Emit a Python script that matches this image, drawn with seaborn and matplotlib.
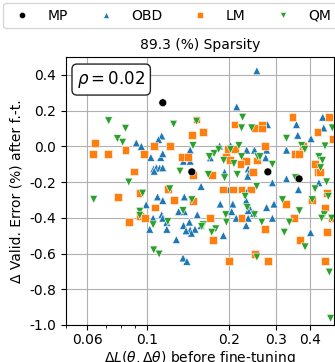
import numpy as np
import pandas as pd
import matplotlib
matplotlib.use("Agg")
import matplotlib.pyplot as plt
from matplotlib import ticker
import seaborn as sns

# ---- data ----
methods = ["MP", "OBD", "LM", "QM"]
colors = {"MP": "black", "OBD": "#1f77b4", "LM": "#ff7f0e", "QM": "#2ca02c"}
markers = {"MP": "o", "OBD": "^", "LM": "s", "QM": "v"}

mp_x = [0.114, 0.146, 0.279, 0.364]
mp_y = [0.244, -0.143, -0.143, -0.182]

obd_x = [0.254, 0.214, 0.278, 0.356, 0.360, 0.403, 0.445, 0.449, 0.113, 0.110,
         0.091, 0.095, 0.144, 0.103, 0.112, 0.114, 0.136, 0.144, 0.1055, 0.108,
         0.111, 0.114, 0.106, 0.158, 0.137, 0.109, 0.114, 0.099, 0.1305, 0.137,
         0.153, 0.105, 0.113, 0.114, 0.118, 0.102, 0.118, 0.136, 0.143, 0.144,
         0.150, 0.1455, 0.139, 0.158, 0.128, 0.1355, 0.140, 0.185, 0.203, 0.233,
         0.249, 0.276, 0.327, 0.171, 0.225, 0.274, 0.236, 0.238, 0.235, 0.327,
         0.431, 0.290, 0.2005, 0.236, 0.362, 0.232, 0.186, 0.207, 0.294, 0.238,
         0.236, 0.276, 0.205, 0.247, 0.213, 0.236, 0.290, 0.232, 0.4015, 0.191,
         0.193]
obd_y = [0.423, 0.221, 0.122, 0.122, 0.062, 0.043, 0.163, 0.103, 0.058, 0.038,
         0.019, 0.000, -0.021, -0.062, -0.062, -0.041, -0.083, -0.083, -0.126, -0.120,
         -0.122, -0.120, -0.139, -0.224, -0.283, -0.283, -0.303, -0.327, -0.365, -0.365,
         -0.383, -0.402, -0.383, -0.402, -0.426, -0.464, -0.464, -0.443, -0.424, -0.468,
         -0.464, -0.486, -0.473, -0.443, -0.522, -0.625, -0.644, 0.002, 0.004, -0.021,
         -0.021, -0.021, -0.021, -0.064, -0.083, -0.064, -0.126, -0.146, -0.167, -0.182,
         -0.204, -0.204, -0.242, -0.242, -0.242, -0.304, -0.323, -0.323, -0.323, -0.342,
         -0.359, -0.342, -0.365, -0.374, -0.402, -0.402, -0.402, -0.443, -0.483, -0.499,
         -0.145]

lm_x = [0.0639, 0.063, 0.0713, 0.083, 0.097, 0.106, 0.1216, 0.146, 0.152, 0.160,
        0.210, 0.249, 0.265, 0.265, 0.344, 0.426, 0.470, 0.487, 0.272, 0.375,
        0.134, 0.141, 0.089, 0.147, 0.119, 0.0777, 0.0935, 0.1255, 0.1475, 0.107,
        0.0853, 0.0937, 0.098, 0.199, 0.211, 0.352, 0.364, 0.196, 0.202, 0.231,
        0.255, 0.221, 0.245, 0.174, 0.417, 0.426, 0.435, 0.191, 0.208, 0.223,
        0.241, 0.460, 0.326, 0.407, 0.454, 0.1705, 0.223, 0.349, 0.272, 0.460,
        0.175, 0.367, 0.250, 0.2005, 0.2785, 0.454, 0.482]
lm_y = [0.020, -0.041, -0.041, -0.019, -0.041, 0.002, 0.003, 0.062, 0.150, 0.081,
        0.122, 0.101, 0.118, 0.100, 0.163, 0.081, 0.163, 0.041, 0.003, 0.003,
        -0.060, -0.060, -0.141, -0.162, -0.238, -0.282, -0.263, -0.302, -0.304, -0.342,
        -0.424, -0.389, -0.402, -0.017, -0.017, -0.041, -0.041, -0.060, -0.077, -0.083,
        -0.079, -0.101, -0.143, -0.162, -0.101, -0.143, -0.143, -0.242, -0.242, -0.242,
        -0.242, -0.261, -0.323, -0.301, -0.342, -0.402, -0.402, -0.402, -0.462, -0.481,
        -0.522, -0.522, -0.603, -0.644, -0.644, -0.644, -0.402]

qm_x = [0.0719, 0.083, 0.0775, 0.081, 0.125, 0.152, 0.1475, 0.225, 0.223, 0.243,
        0.327, 0.483, 0.218, 0.372, 0.382, 0.1765, 0.1695, 0.1915, 0.223, 0.256,
        0.261, 0.290, 0.209, 0.215, 0.168, 0.193, 0.353, 0.431, 0.444, 0.437,
        0.460, 0.2536, 0.417, 0.467, 0.230, 0.316, 0.407, 0.365, 0.195, 0.249,
        0.451, 0.441, 0.480, 0.335, 0.265, 0.196, 0.161, 0.1587, 0.179, 0.173,
        0.321, 0.383, 0.254, 0.471, 0.476, 0.0853, 0.0633, 0.096, 0.121, 0.132,
        0.146, 0.1355, 0.0937, 0.0937, 0.119, 0.105, 0.1055, 0.1105, 0.203, 0.454,
        0.234, 0.1835]
qm_y = [0.143, 0.101, 0.043, 0.023, 0.124, 0.141, 0.004, 0.163, 0.103, 0.103,
        0.045, 0.103, 0.004, 0.004, -0.017, -0.041, -0.058, -0.079, -0.058, -0.058,
        -0.058, -0.101, -0.097, -0.158, -0.158, -0.176, -0.176, -0.058, -0.079, -0.120,
        -0.199, -0.224, -0.238, -0.280, -0.280, -0.299, -0.299, -0.361, -0.383, -0.383,
        -0.383, -0.402, -0.402, -0.424, -0.424, -0.424, -0.439, -0.449, -0.462, -0.481,
        -0.481, -0.563, -0.620, -0.704, -0.963, -0.200, -0.297, -0.262, -0.238, -0.139,
        -0.299, -0.360, -0.363, -0.386, -0.421, -0.439, -0.580, -0.603, -0.017, 0.002,
        -0.342, -0.017]

title = "89.3 (%) Sparsity"
rho_text = r"$\rho = 0.02$"
xticks = [0.06, 0.1, 0.2, 0.3, 0.4]
xtick_labels = ["0.06", "0.1", "0.2", "0.3", "0.4"]
xminor = [0.05, 0.07, 0.08, 0.09]
yticks = [-1.0, -0.8, -0.6, -0.4, -0.2, 0.0, 0.2, 0.4]

# ---- build table (plot order: OBD, LM, QM, MP on top) ----
frames = [
    pd.DataFrame({"x": obd_x, "y": obd_y, "method": "OBD"}),
    pd.DataFrame({"x": lm_x, "y": lm_y, "method": "LM"}),
    pd.DataFrame({"x": qm_x, "y": qm_y, "method": "QM"}),
    pd.DataFrame({"x": mp_x, "y": mp_y, "method": "MP"}),
]
df = pd.concat(frames, ignore_index=True)

plt.rcParams["font.family"] = ["DejaVu Sans"]
fig = plt.figure(figsize=(3.35, 3.62), dpi=100)
ax = fig.add_axes([66 / 335, 1 - 325 / 362, (334 - 66) / 335, (325 - 57) / 362])

sns.scatterplot(data=df, x="x", y="y", hue="method", style="method",
                hue_order=methods, style_order=methods, palette=colors,
                markers=markers, s=32, linewidth=0.4, edgecolor="white",
                ax=ax, legend=True, zorder=3)

ax.set_xscale("log")
ax.set_xlim(0.05, 0.49)
ax.set_ylim(-1.0, 0.5)
ax.xaxis.set_major_locator(ticker.FixedLocator(xticks))
ax.xaxis.set_major_formatter(ticker.FixedFormatter(xtick_labels))
ax.xaxis.set_minor_locator(ticker.FixedLocator(xminor))
ax.xaxis.set_minor_formatter(ticker.NullFormatter())
ax.set_yticks(yticks)
ax.yaxis.set_major_formatter(ticker.FormatStrFormatter("%.1f"))
ax.grid(True, which="major", color="#b0b0b0", linewidth=0.8)
ax.set_axisbelow(True)
ax.tick_params(labelsize=10)
ax.tick_params(axis="x", which="major", pad=2.5)

ax.set_title(title, fontsize=10)
ax.set_xlabel(r"$\Delta L(\theta, \Delta\theta)$ before fine-tuning", fontsize=10, labelpad=1)
ax.set_ylabel("Δ Valid. Error (%) after f.-t.", fontsize=10)

ax.text(0.041, 0.955, rho_text, transform=ax.transAxes, fontsize=12,
        ha="left", va="top", zorder=5,
        bbox=dict(boxstyle="round,pad=0.3", facecolor="white", edgecolor="0.15"))

handles, labels = ax.get_legend_handles_labels()
ax.get_legend().remove()
fig.legend(handles, labels, loc="upper left", bbox_to_anchor=(3 / 335, 1 - 3 / 362),
           ncol=4, fontsize=10, markerscale=0.8, borderaxespad=0, frameon=True,
           columnspacing=1.75)

fig.savefig("out.png", dpi=100)
